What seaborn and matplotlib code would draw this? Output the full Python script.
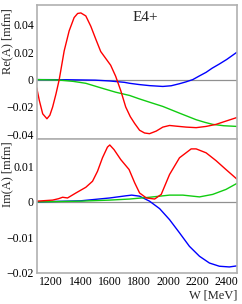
import matplotlib
matplotlib.use("Agg")
import matplotlib.pyplot as plt
import seaborn as sns
from matplotlib.ticker import MultipleLocator

# Re(A) curves  (W in MeV, values in mfm)
w_re_red = [1100, 1118, 1141, 1170, 1190, 1209, 1232, 1254, 1288, 1322, 1356, 1380,
            1402, 1436, 1470, 1504, 1538, 1572, 1606, 1640, 1675, 1709, 1740, 1770,
            1804, 1838, 1872, 1918, 1963, 2009, 2054, 2123, 2191, 2259, 2327, 2395, 2470]
re_red = [-0.006, -0.0153, -0.025, -0.0286, -0.026, -0.020, -0.0104, 0.0, 0.021, 0.0356,
          0.0453, 0.0483, 0.0487, 0.0465, 0.039, 0.0296, 0.0205, 0.0155, 0.0105, 0.0025,
          -0.008, -0.020, -0.027, -0.032, -0.037, -0.039, -0.0395, -0.0376, -0.0347,
          -0.0335, -0.034, -0.0347, -0.0351, -0.0342, -0.0327, -0.0303, -0.0277]

w_re_blue = [1100, 1300, 1500, 1600, 1700, 1736, 1800, 1872, 1963, 2020, 2077, 2120,
             2168, 2210, 2259, 2300, 2350, 2400, 2470]
re_blue = [0.0, -0.0001, -0.0004, -0.001, -0.002, -0.0027, -0.0036, -0.0044, -0.005,
           -0.0045, -0.003, -0.0017, 0.0, 0.0025, 0.0053, 0.0083, 0.0114, 0.0147, 0.020]

w_re_green = [1100, 1250, 1350, 1436, 1538, 1640, 1736, 1800, 1872, 1963, 2077, 2191,
              2250, 2304, 2380, 2470]
re_green = [0.0, -0.0003, -0.0013, -0.0027, -0.006, -0.0092, -0.0116, -0.014, -0.0165,
            -0.0196, -0.0245, -0.0293, -0.0312, -0.0327, -0.0337, -0.0342]

# Im(A) curves
w_im_red = [1100, 1209, 1250, 1277, 1311, 1368, 1436, 1482, 1516, 1550, 1584, 1600,
            1629, 1675, 1732, 1770, 1804, 1850, 1907, 1952, 2009, 2077, 2157, 2191,
            2259, 2327, 2395, 2470]
im_red = [0.0002, 0.0005, 0.0009, 0.0013, 0.0011, 0.0025, 0.0041, 0.0058, 0.0086,
          0.0124, 0.0154, 0.016, 0.0147, 0.0119, 0.0091, 0.0054, 0.0025, 0.0011, 0.0008,
          0.0021, 0.0077, 0.0124, 0.0149, 0.0149, 0.0138, 0.0116, 0.0091, 0.0064]

w_im_blue = [1100, 1400, 1500, 1600, 1709, 1750, 1804, 1872, 1941, 2009, 2077, 2145,
             2214, 2282, 2350, 2418, 2470]
im_blue = [0.0, 0.0003, 0.0007, 0.0011, 0.0017, 0.0019, 0.0016, 0.0002, -0.0019, -0.005,
           -0.0087, -0.0125, -0.0153, -0.0172, -0.0181, -0.0183, -0.018]

w_im_green = [1100, 1400, 1600, 1736, 1872, 2009, 2100, 2214, 2304, 2395, 2470]
im_green = [0.0, 0.0002, 0.0005, 0.0008, 0.0013, 0.0019, 0.0019, 0.0014, 0.0021,
            0.0035, 0.0052]

re_ticks = [-0.04, -0.02, 0, 0.02, 0.04]
re_labels = ["\u22120.04", "\u22120.02", "0", "0.02", "0.04"]
im_ticks = [-0.02, -0.01, 0, 0.01]
im_labels = ["\u22120.02", "\u22120.01", "0", "0.01"]
w_ticks = [1200, 1400, 1600, 1800, 2000, 2200, 2400]

sns.set_style("white")
plt.rcParams["font.family"] = ["Liberation Serif", "DejaVu Serif"]
plt.rcParams["axes.unicode_minus"] = True

fig = plt.figure(figsize=(2.42, 3.04), dpi=100)
ax1 = fig.add_axes([0.1517, 0.5418, 0.8273, 0.4418])
ax2 = fig.add_axes([0.1517, 0.102, 0.8273, 0.4398])

red, blue, green = "#ff0000", "#0000ff", "#11cc11"
lw = 1.0

for ax in (ax1, ax2):
    ax.axhline(0, color="#909090", lw=0.9, zorder=1)

sns.lineplot(x=w_re_blue, y=re_blue, ax=ax1, color=blue, lw=lw, sort=False, estimator=None)
sns.lineplot(x=w_re_green, y=re_green, ax=ax1, color=green, lw=lw, sort=False, estimator=None)
sns.lineplot(x=w_re_red, y=re_red, ax=ax1, color=red, lw=lw, sort=False, estimator=None)

sns.lineplot(x=w_im_blue, y=im_blue, ax=ax2, color=blue, lw=lw, sort=False, estimator=None)
sns.lineplot(x=w_im_green, y=im_green, ax=ax2, color=green, lw=lw, sort=False, estimator=None)
sns.lineplot(x=w_im_red, y=im_red, ax=ax2, color=red, lw=lw, sort=False, estimator=None)

ax1.set_ylim(-0.0436, 0.0545)
ax2.set_ylim(-0.0199, 0.0176)

for ax in (ax1, ax2):
    ax.set_xlim(1100, 2470)
    ax.set_xticks(w_ticks)
    ax.xaxis.set_minor_locator(MultipleLocator(50))
    for s in ax.spines.values():
        s.set_color("#b0b0b0")
        s.set_linewidth(1.2)
    ax.tick_params(which="both", direction="in", top=False, right=False,
                   colors="black", labelsize=8.5, pad=2)
    ax.tick_params(which="major", length=5, width=0.7)
    ax.tick_params(which="minor", length=2.5, width=0.6)

ax1.set_yticks(re_ticks)
ax1.set_yticklabels(re_labels)
ax1.yaxis.set_minor_locator(MultipleLocator(0.005))
ax1.tick_params(axis="x", labelbottom=False)

ax2.set_yticks(im_ticks)
ax2.set_yticklabels(im_labels)
ax2.yaxis.set_minor_locator(MultipleLocator(0.002))

ax1.set_ylabel("Re(A) [mfm]", fontsize=9, loc="top")
ax2.set_ylabel("Im(A) [mfm]", fontsize=9, loc="top")
ax1.yaxis.set_label_coords(-0.118, 0.975)
ax2.yaxis.set_label_coords(-0.118, 0.985)
ax2.set_xlabel("W [MeV]", fontsize=9, loc="right", labelpad=1)
ax1.set_xlabel("")

ax1.text(0.48, 0.955, "E4+", transform=ax1.transAxes, fontsize=11, va="top", ha="left")

fig.savefig("out.png", dpi=100)
